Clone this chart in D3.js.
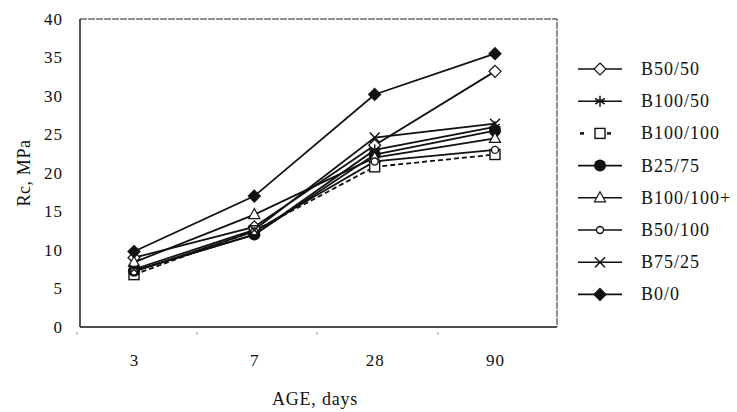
<!DOCTYPE html>
<html>
<head>
<meta charset="utf-8">
<script src="https://cdn.jsdelivr.net/npm/d3@7"></script>
<style>
  body { margin: 0; background: #fff; }
  text { font-family: "Liberation Serif", "DejaVu Serif", serif; fill: #111; }
</style>
</head>
<body>
<script>
const ages = ['3', '7', '28', '90'];
const yTicks = [0, 5, 10, 15, 20, 25, 30, 35, 40];

const seriesNames = ['B50/50', 'B100/50', 'B100/100', 'B25/75', 'B100/100+', 'B50/100', 'B75/25', 'B0/0'];
const b50_50 = [9.0, 13.0, 23.6, 33.2];
const b100_50 = [7.3, 12.0, 23.0, 26.0];
const b100_100 = [6.8, 12.5, 20.8, 22.4];
const b25_75 = [7.3, 12.0, 22.4, 25.5];
const b100_100p = [8.4, 14.6, 22.0, 24.5];
const b50_100 = [7.2, 12.4, 21.5, 23.0];
const b75_25 = [7.5, 12.6, 24.6, 26.4];
const b0_0 = [9.8, 17.0, 30.2, 35.5];
const seriesValues = [b50_50, b100_50, b100_100, b25_75, b100_100p, b50_100, b75_25, b0_0];
const markers = ['diamondOpen', 'star', 'squareOpen', 'circleFilled', 'triangleOpen', 'circleSmall', 'cross', 'diamondFilled'];

let dim = { width: 737, height: 412 };
let svg = d3.select('body').append('svg').attr('width', dim.width).attr('height', dim.height);

let plot = { left: 80, right: 557, top: 19, bottom: 327 };

let x = d3.scalePoint().domain(ages).range([134, 495]);
let y = d3.scaleLinear().domain([0, 40]).range([plot.bottom, plot.top]);

// frame
svg.append('line').attr('x1', plot.left).attr('x2', plot.left).attr('y1', plot.top).attr('y2', plot.bottom)
  .attr('stroke', '#111').attr('stroke-width', 1.4);
svg.append('line').attr('x1', plot.left).attr('x2', plot.right).attr('y1', plot.bottom).attr('y2', plot.bottom)
  .attr('stroke', '#111').attr('stroke-width', 1.4);
svg.append('polyline').attr('points', `${plot.left},${plot.top} ${plot.right},${plot.top} ${plot.right},${plot.bottom}`)
  .attr('fill', 'none').attr('stroke', '#222').attr('stroke-width', 1).attr('stroke-dasharray', '7 1');

// faint tick marks under the x axis
[74, 194, 314, 435].forEach(t => {
  svg.append('line').attr('x1', t + 3).attr('x2', t + 3).attr('y1', plot.bottom + 5).attr('y2', plot.bottom + 8)
    .attr('stroke', '#999').attr('stroke-width', 1);
});

// y axis labels
let yAxis = d3.axisLeft(y).tickValues(yTicks).tickSize(0).tickPadding(17);
svg.append('g').attr('transform', `translate(${plot.left},0)`).call(yAxis)
  .call(g => g.select('.domain').remove())
  .selectAll('text').style('font-family', '"Liberation Serif", serif').style('font-size', '17px')
  .style('letter-spacing', '1px').attr('fill', '#111');

// x axis labels
let xAxis = d3.axisBottom(x).tickSize(0).tickPadding(27);
svg.append('g').attr('transform', `translate(0,${plot.bottom})`).call(xAxis)
  .call(g => g.select('.domain').remove())
  .selectAll('text').style('font-family', '"Liberation Serif", serif').style('font-size', '17px')
  .style('letter-spacing', '1px').attr('fill', '#111');

svg.append('text').attr('x', 315).attr('y', 405).attr('text-anchor', 'middle')
  .style('font-size', '18px').style('letter-spacing', '0.8px').text('AGE, days');
svg.append('text').attr('transform', 'translate(30,173) rotate(-90)').attr('text-anchor', 'middle')
  .style('font-size', '18px').style('letter-spacing', '0.6px').text('Rc, MPa');

function drawMarker(g, type, cx, cy) {
  const s = '#111';
  if (type === 'diamondOpen' || type === 'diamondFilled') {
    g.append('path').attr('d', `M${cx},${cy - 6}L${cx + 6},${cy}L${cx},${cy + 6}L${cx - 6},${cy}Z`)
      .attr('fill', type === 'diamondFilled' ? s : '#fff').attr('stroke', s).attr('stroke-width', 1.2);
  } else if (type === 'star') {
    [0, 60, 120].forEach(a => {
      const r = 5.5, dx = r * Math.sin(a * Math.PI / 180), dy = r * Math.cos(a * Math.PI / 180);
      g.append('line').attr('x1', cx - dx).attr('y1', cy - dy).attr('x2', cx + dx).attr('y2', cy + dy)
        .attr('stroke', s).attr('stroke-width', 1.5);
    });
    g.append('line').attr('x1', cx - 5.5).attr('x2', cx + 5.5).attr('y1', cy).attr('y2', cy).attr('stroke', s).attr('stroke-width', 1.5);
  } else if (type === 'squareOpen') {
    g.append('rect').attr('x', cx - 5).attr('y', cy - 5).attr('width', 10).attr('height', 10)
      .attr('fill', '#fff').attr('stroke', s).attr('stroke-width', 1.4);
  } else if (type === 'circleFilled') {
    g.append('circle').attr('cx', cx).attr('cy', cy).attr('r', 6).attr('fill', s);
  } else if (type === 'triangleOpen') {
    g.append('path').attr('d', `M${cx},${cy - 6}L${cx + 5.5},${cy + 4}L${cx - 5.5},${cy + 4}Z`)
      .attr('fill', '#fff').attr('stroke', s).attr('stroke-width', 1.2);
  } else if (type === 'circleSmall') {
    g.append('circle').attr('cx', cx).attr('cy', cy).attr('r', 3.5).attr('fill', '#fff').attr('stroke', s).attr('stroke-width', 1.4);
  } else if (type === 'cross') {
    g.append('path').attr('d', `M${cx - 5},${cy - 5}L${cx + 5},${cy + 5}M${cx - 5},${cy + 5}L${cx + 5},${cy - 5}`)
      .attr('stroke', s).attr('stroke-width', 1.5);
  }
}

let line = d3.line().x((d, i) => x(ages[i])).y(d => y(d));

// series
seriesValues.forEach((vals, k) => {
  svg.append('path').attr('d', line(vals)).attr('fill', 'none').attr('stroke', '#111')
    .attr('stroke-width', 1.8).attr('stroke-dasharray', seriesNames[k] === 'B100/100' ? '5 3' : null);
});
seriesValues.forEach((vals, k) => {
  let g = svg.append('g');
  vals.forEach((v, i) => drawMarker(g, markers[k], x(ages[i]), y(v)));
});

// legend
let legend = svg.append('g');
seriesNames.forEach((name, k) => {
  let ly = 69 + k * 32.2;
  let g = legend.append('g');
  if (name === 'B100/100') {
    g.append('line').attr('x1', 580).attr('x2', 584).attr('y1', ly).attr('y2', ly).attr('stroke', '#111').attr('stroke-width', 2.5);
    g.append('line').attr('x1', 607).attr('x2', 611).attr('y1', ly).attr('y2', ly).attr('stroke', '#111').attr('stroke-width', 2.5);
  } else {
    g.append('line').attr('x1', 578).attr('x2', 622).attr('y1', ly).attr('y2', ly).attr('stroke', '#111').attr('stroke-width', 1.6);
  }
  drawMarker(g, markers[k], 600, ly);
  g.append('text').attr('x', 641).attr('y', ly + 6).style('font-size', '18px').style('letter-spacing', '1px').text(name);
});
</script>
</body>
</html>
